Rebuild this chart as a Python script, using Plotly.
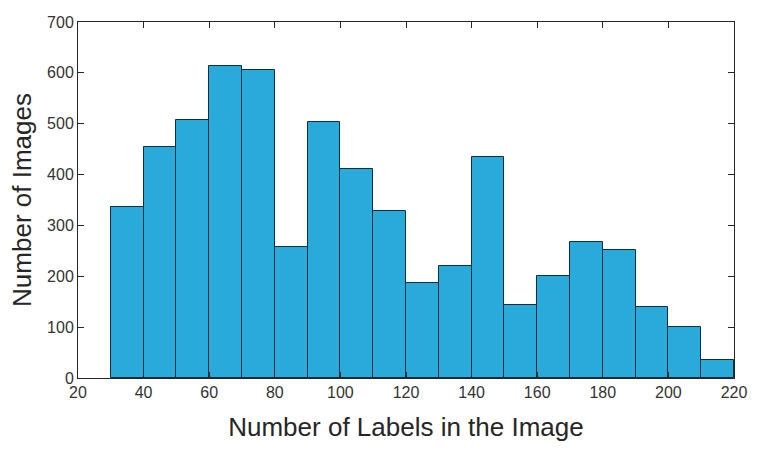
import plotly.graph_objects as go

bin_starts = [30, 40, 50, 60, 70, 80, 90, 100, 110, 120, 130, 140, 150, 160, 170, 180, 190, 200, 210]
counts = [336, 455, 507, 613, 606, 257, 503, 411, 328, 187, 220, 435, 144, 200, 267, 252, 140, 100, 35]
bin_width = 10
x_ticks = [20, 40, 60, 80, 100, 120, 140, 160, 180, 200, 220]
y_ticks = [0, 100, 200, 300, 400, 500, 600, 700]

centers = [s + bin_width / 2 for s in bin_starts]

fig = go.Figure(go.Bar(
    x=centers, y=counts, width=[bin_width] * len(centers),
    marker=dict(color="rgb(42,170,219)", line=dict(color="#0f2e3d", width=1)),
))

axis_common = dict(
    showline=True, linecolor="#262626", linewidth=1, mirror="ticks",
    ticks="inside", ticklen=6, tickcolor="#262626", showgrid=False, zeroline=False,
    automargin=False,
    tickfont=dict(family="Liberation Sans, Arial", size=16, color="#333333"),
)

fig.update_layout(
    width=758, height=452,
    margin=dict(l=78, r=24, t=22, b=74),
    paper_bgcolor="white", plot_bgcolor="white",
    showlegend=False, bargap=0,
    xaxis=dict(range=[20, 220], tickvals=x_ticks,
               title=dict(text="Number of Labels in the Image", standoff=17,
                          font=dict(family="Liberation Sans, Arial", size=26, color="#262626")),
               **axis_common),
    yaxis=dict(range=[0, 700], tickvals=y_ticks,
               title=dict(text="Number of Images", standoff=7,
                          font=dict(family="Liberation Sans, Arial", size=26, color="#262626")),
               **axis_common),
)

fig.write_html("out.html", config={"displayModeBar": False},
               post_script="document.body.style.margin='0';")
